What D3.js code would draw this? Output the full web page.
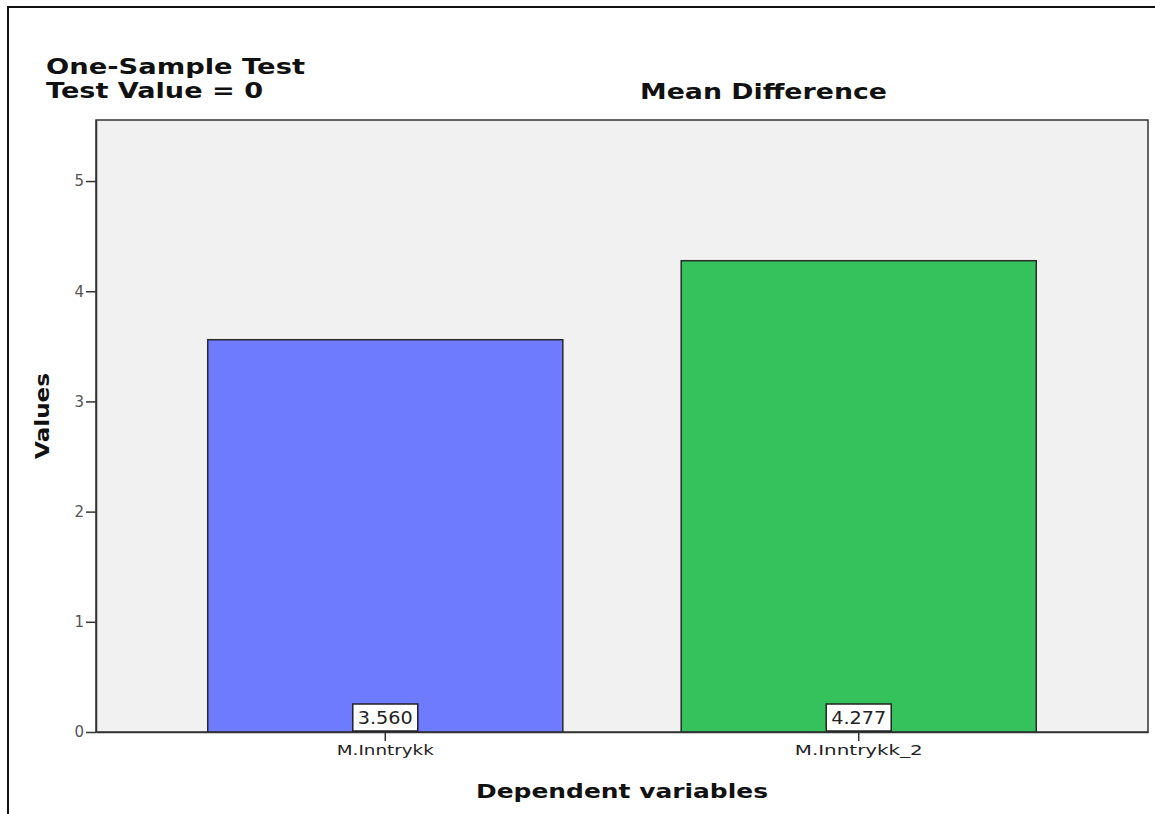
<!DOCTYPE html>
<html>
<head>
<meta charset="utf-8">
<script src="https://cdn.jsdelivr.net/npm/d3@7"></script>
<style>
  html, body { margin: 0; padding: 0; background: #fff; }
  svg { display: block; }
</style>
</head>
<body>
<script>
const categories = ["M.Inntrykk", "M.Inntrykk_2"];
const values = [3.560, 4.277];
const barColors = ["#6e7bff", "#35c25c"];
const yTicks = [0, 1, 2, 3, 4, 5];
const valueLabels = ["3.560", "4.277"];

const W = 1155, H = 814;
const svg = d3.select("body").append("svg").attr("width", W).attr("height", H);
const font = "'DejaVu Sans', Verdana, sans-serif";
const adj = "spacingAndGlyphs";

// outer frame (only top and left visible)
svg.append("line").attr("x1", 8).attr("x2", W).attr("y1", 7).attr("y2", 7)
  .attr("stroke", "#111").attr("stroke-width", 2);
svg.append("line").attr("x1", 8).attr("x2", 8).attr("y1", 6).attr("y2", H)
  .attr("stroke", "#111").attr("stroke-width", 2);

const plot = { left: 96, right: 1148, top: 120, bottom: 732 };

const x = d3.scaleBand().domain(categories)
  .range([plot.left, plot.right]).paddingInner(0.25).paddingOuter(0.236);
const y = d3.scaleLinear().domain([0, 5.554]).range([plot.bottom, plot.top]);

// background
svg.append("rect").attr("x", plot.left).attr("y", plot.top)
  .attr("width", plot.right - plot.left).attr("height", plot.bottom - plot.top)
  .attr("fill", "#f1f1f1").attr("stroke", "#333").attr("stroke-width", 1.5);

// bars
svg.selectAll("rect.bar").data(categories).enter().append("rect")
  .attr("class", "bar")
  .attr("x", d => x(d))
  .attr("y", (d, i) => y(values[i]))
  .attr("width", x.bandwidth())
  .attr("height", (d, i) => y(0) - y(values[i]))
  .attr("fill", (d, i) => barColors[i])
  .attr("stroke", "#2a2a2a").attr("stroke-width", 1.5);

// y axis
const yAxis = d3.axisLeft(y).tickValues(yTicks).tickSizeInner(10).tickSizeOuter(0)
  .tickPadding(2).tickFormat(d3.format("d"));
const gy = svg.append("g").attr("transform", `translate(${plot.left},0)`).call(yAxis);
gy.select(".domain").attr("stroke", "#333").attr("stroke-width", 1.5);
gy.selectAll(".tick line").attr("stroke", "#333").attr("stroke-width", 1.5);
gy.selectAll(".tick text").attr("fill", "#555").style("font-family", font).style("font-size", "15px");

// x axis
const xAxis = d3.axisBottom(x).tickSizeInner(9).tickSizeOuter(0).tickPadding(4);
const gx = svg.append("g").attr("transform", `translate(0,${plot.bottom})`).call(xAxis);
gx.select(".domain").attr("stroke", "#333").attr("stroke-width", 1.5);
gx.selectAll(".tick line").attr("stroke", "#333").attr("stroke-width", 1.5);
gx.selectAll(".tick text").attr("fill", "#222").style("font-family", font).style("font-size", "14px")
  .attr("textLength", (d, i) => i === 0 ? 97 : 128).attr("lengthAdjust", adj);

// value label boxes
const lab = svg.selectAll("g.vlab").data(categories).enter().append("g")
  .attr("class", "vlab")
  .attr("transform", d => `translate(${x(d) + x.bandwidth() / 2},${plot.bottom})`);
lab.append("rect").attr("x", -32.5).attr("y", -28).attr("width", 65).attr("height", 27)
  .attr("fill", "#fff").attr("stroke", "#222").attr("stroke-width", 1.5);
lab.append("text").attr("x", 0).attr("y", -8).attr("text-anchor", "middle")
  .style("font-family", font).style("font-size", "17px").attr("fill", "#222")
  .attr("textLength", 55).attr("lengthAdjust", adj)
  .text((d, i) => valueLabels[i]);

// titles
svg.append("text").attr("x", 46).attr("y", 74)
  .style("font-family", font).style("font-size", "22px").style("font-weight", "bold")
  .attr("fill", "#111").attr("textLength", 259).attr("lengthAdjust", adj)
  .text("One-Sample Test");
svg.append("text").attr("x", 46).attr("y", 98)
  .style("font-family", font).style("font-size", "22px").style("font-weight", "bold")
  .attr("fill", "#111").attr("textLength", 217).attr("lengthAdjust", adj)
  .text("Test Value = 0");

svg.append("text").attr("x", 640).attr("y", 99)
  .style("font-family", font).style("font-size", "22px").style("font-weight", "bold")
  .attr("textLength", 247).attr("lengthAdjust", adj)
  .attr("fill", "#111").text("Mean Difference");

// axis titles
svg.append("text").attr("transform", "translate(49,416) rotate(-90)")
  .attr("text-anchor", "middle")
  .style("font-family", font).style("font-size", "20px").style("font-weight", "bold")
  .attr("textLength", 86).attr("lengthAdjust", adj)
  .attr("fill", "#111").text("Values");

svg.append("text").attr("x", 622).attr("y", 798).attr("text-anchor", "middle")
  .style("font-family", font).style("font-size", "20px").style("font-weight", "bold")
  .attr("textLength", 292).attr("lengthAdjust", adj)
  .attr("fill", "#111").text("Dependent variables");
</script>
</body>
</html>
